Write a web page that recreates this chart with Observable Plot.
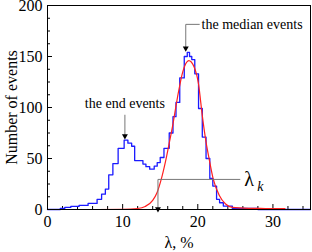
<!DOCTYPE html>
<html>
<head>
<meta charset="utf-8">
<script src="https://cdn.jsdelivr.net/npm/d3@7"></script>
<script src="https://cdn.jsdelivr.net/npm/@observablehq/plot@0.6"></script>
<style>
  html, body { margin: 0; padding: 0; background: #fff; }
</style>
</head>
<body>
<div id="chart"></div>
<script>
// Histogram (bin left edges and counts)
const binEdges = [0, 1.7, 2.3, 3.1, 4.2, 5.4, 6.6, 7.2, 7.7, 8.15, 8.7, 9.4, 10.2, 10.7, 11.2, 11.6, 12.7, 13.1, 13.6, 14.2, 14.6, 15.0, 15.5, 16.2, 16.7, 17.1, 17.6, 18.2, 18.6, 18.9, 19.2, 19.6, 20.1, 20.6, 21.1, 21.6, 22.0, 22.5, 22.9, 23.4, 24.6, 28.0, 35];
const binCounts = [0, 1, 2, 3, 4, 6, 10, 15, 20, 34, 45, 60, 68, 65, 62, 48, 44.5, 42, 39.5, 42.5, 46, 51, 60, 75, 91, 105, 129, 150, 154, 150, 147, 133, 99, 71, 50, 30.5, 23, 10, 6.6, 3.4, 1, 0, 0];

// Fitted curve
const fitX = [6.7, 10, 12, 13, 14, 14.6, 15.15, 15.7, 16.2, 16.7, 17.3, 18.0, 18.8, 19.5, 20.1, 20.6, 21.1, 21.5, 22.05, 22.85, 23.7, 24.6, 26.8, 29, 31.6];
const fitY = [0, 0.2, 1, 3, 9, 17, 30, 47, 65, 84, 110, 135, 146, 140, 123, 92, 66, 50, 30, 14, 5.4, 2.1, 1.2, 1, 0.8];

// Ticks
const xMajor = [0, 10, 20, 30];
const xMinor = [2, 4, 6, 8, 12, 14, 16, 18, 22, 24, 26, 28, 32, 34];
const yMajor = [0, 50, 100, 150, 200];
const yMinor = [12.5, 25, 37.5, 62.5, 75, 87.5, 112.5, 125, 137.5, 162.5, 175, 187.5];

// Annotations (data space)
const medianText = ["the median events"];
const medianConn = [{x: 18.4, y: 159}, {x: 18.4, y: 181.5}, {x: 20.2, y: 181.5}];
const endText = ["the end events"];
const endConn = [{x: 10.3, y: 73}, {x: 10.3, y: 92.5}];
const kConn = [{x: 14.7, y: 1.5}, {x: 14.7, y: 29.5}, {x: 25.6, y: 29.5}];

const FONT = "Liberation Serif";

const hist = binEdges.map((x, i) => ({x, y: binCounts[i]}));
const fit = fitX.map((x, i) => ({x, y: fitY[i]}));

const chart = Plot.plot({
  width: 312,
  height: 252,
  marginLeft: 47,
  marginRight: 2,
  marginTop: 5,
  marginBottom: 43,
  style: {fontFamily: FONT, fontSize: "16px", color: "#000", background: "#fff", overflow: "visible"},
  x: {domain: [0, 35]},
  y: {domain: [0, 200]},
  marks: [
    Plot.axisX({ticks: xMajor, tickSize: 0, tickPadding: 6, fontSize: 16, fontFamily: FONT, label: "λ, %", labelAnchor: "center", labelArrow: "none", labelOffset: 38}),
    Plot.axisX({ticks: xMajor, tickSize: -5, tickFormat: () => "", label: null}),
    Plot.axisX({ticks: xMinor, tickSize: -3, tickFormat: () => "", label: null}),
    Plot.axisY({ticks: yMajor, tickSize: 0, tickPadding: 5, fontSize: 16, fontFamily: FONT, label: "Number of events", labelAnchor: "center", labelArrow: "none", labelOffset: 42}),
    Plot.axisY({ticks: yMajor, tickSize: -5, tickFormat: () => "", label: null}),
    Plot.axisY({ticks: yMinor, tickSize: -3, tickFormat: () => "", label: null}),
    Plot.line(hist, {x: "x", y: "y", curve: "step-after", stroke: "#1a1aff", strokeWidth: 1.3}),
    Plot.line(fit, {x: "x", y: "y", curve: "monotone-x", stroke: "#ff2020", strokeWidth: 1.2}),
    // median annotation
    Plot.line(medianConn, {x: "x", y: "y", stroke: "#777", strokeWidth: 1}),
    Plot.dot([medianConn[0]], {x: "x", y: "y", symbol: "triangle", rotate: 180, r: 2.2, fill: "#000", stroke: null, dy: 1}),
    Plot.text(medianText, {x: 20.5, y: 181.5, text: d => d, textAnchor: "start", fontSize: 14, fontFamily: FONT}),
    // end annotation
    Plot.line(endConn, {x: "x", y: "y", stroke: "#777", strokeWidth: 1}),
    Plot.dot([endConn[0]], {x: "x", y: "y", symbol: "triangle", rotate: 180, r: 2.2, fill: "#000", stroke: null, dy: 1}),
    Plot.text(endText, {x: 10.3, y: 103.5, text: d => d, textAnchor: "middle", fontSize: 14, fontFamily: FONT}),
    // lambda_k annotation
    Plot.line(kConn, {x: "x", y: "y", stroke: "#777", strokeWidth: 1}),
    Plot.dot([kConn[0]], {x: "x", y: "y", symbol: "triangle", rotate: 180, r: 2.2, fill: "#000", stroke: null, dy: 1}),
    Plot.text(["λ"], {x: 26.2, y: 29.5, text: d => d, textAnchor: "start", fontSize: 20, fontFamily: FONT}),
    Plot.text(["k"], {x: 27.9, y: 23, text: d => d, textAnchor: "start", fontSize: 14, fontStyle: "italic", fontFamily: FONT}),
    Plot.frame({stroke: "#000", strokeWidth: 1})
  ]
});
document.getElementById("chart").appendChild(chart);
</script>
</body>
</html>
